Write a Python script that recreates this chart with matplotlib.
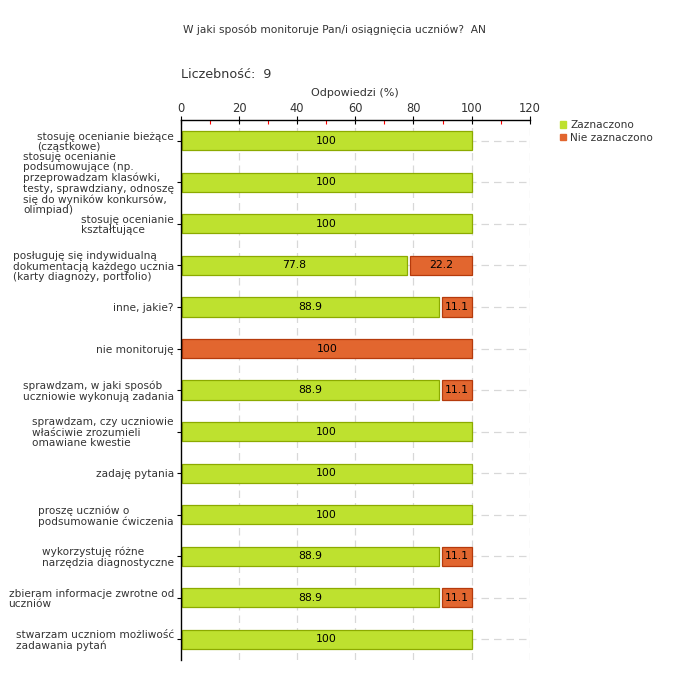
import numpy as np
import matplotlib.pyplot as plt
from matplotlib.ticker import MultipleLocator
from matplotlib.patches import Patch

# Data
labels = [
    "stosuję ocenianie bieżące\n(cząstkowe)",
    "stosuję ocenianie\npodsumowujące (np.\nprzeprowadzam klasówki,\ntesty, sprawdziany, odnoszę\nsię do wyników konkursów,\nolimpiad)",
    "stosuję ocenianie\nkształtujące",
    "posługuję się indywidualną\ndokumentacją każdego ucznia\n(karty diagnozy, portfolio)",
    "inne, jakie?",
    "nie monitoruję",
    "sprawdzam, w jaki sposób\nuczniowie wykonują zadania",
    "sprawdzam, czy uczniowie\nwłaściwie zrozumieli\nomawiane kwestie",
    "zadaję pytania",
    "proszę uczniów o\npodsumowanie ćwiczenia",
    "wykorzystuję różne\nnarzędzia diagnostyczne",
    "zbieram informacje zwrotne od\nuczniów",
    "stwarzam uczniom możliwość\nzadawania pytań",
]
zaznaczono = [100, 100, 100, 77.8, 88.9, 0, 88.9, 100, 100, 100, 88.9, 88.9, 100]
nie_zaznaczono = [0, 0, 0, 22.2, 11.1, 100, 11.1, 0, 0, 0, 11.1, 11.1, 0]

title = "W jaki sposób monitoruje Pan/i osiągnięcia uczniów?  AN"
count_text = "Liczebność:  9"
xlabel = "Odpowiedzi (%)"

green, green_edge = "#bee12f", "#8caa00"
orange, orange_edge = "#e2662f", "#b53a0c"
text_col = "#333333"
grid_col = "#d8d8d8"
gap = 1.0

plt.rcParams['font.family'] = ['DejaVu Sans']
fig = plt.figure(figsize=(6.8, 6.8), dpi=100)
ax = fig.add_axes([0.266, 0.0294, 0.513, 0.794])

y = np.arange(len(labels))
z = np.array(zaznaczono)
n = np.array(nie_zaznaczono)

# grid lines behind bars
for yi in y:
    ax.plot([0, 120], [yi, yi], color=grid_col, lw=0.9, ls=(0, (6, 4)), zorder=0)
for xv in range(20, 121, 20):
    ax.axvline(xv, color=grid_col, lw=0.9, ls=(0, (6, 4)), zorder=0)

h = 0.46
gz = z > 0
gn = n > 0
ax.barh(y[gz], z[gz] - 0.5, left=0.5, height=h, color=green,
        edgecolor=green_edge, lw=0.9, zorder=2)
nl = np.where(z > 0, z + gap, 0.5)
ax.barh(y[gn], (100 - nl)[gn], left=nl[gn], height=h, color=orange,
        edgecolor=orange_edge, lw=0.9, zorder=2)

for yi, zv, nv in zip(y, z, n):
    if zv > 0:
        ax.text(zv / 2, yi, f"{zv:g}", ha="center", va="center", fontsize=7.8,
                color="black", zorder=3)
    if nv > 0:
        ax.text(zv + nv / 2 + gap / 2, yi, f"{nv:g}", ha="center", va="center",
                fontsize=7.8, color="black", zorder=3)

ax.set_xlim(0, 120)
ax.set_ylim(len(labels) - 0.5, -0.5)
ax.xaxis.tick_top()
ax.xaxis.set_label_position("top")
ax.xaxis.set_major_locator(MultipleLocator(20))
ax.xaxis.set_minor_locator(MultipleLocator(10))
ax.tick_params(axis="x", which="major", direction="inout", length=6, width=0.8,
               labelsize=8.3, labelcolor=text_col, pad=1)
ax.tick_params(axis="x", which="minor", direction="in", length=3, width=0.8,
               color="red")
ax.set_xlabel(xlabel, fontsize=8, color=text_col, labelpad=4)

ax.set_yticks(y)
ax.set_yticklabels(labels, fontsize=7.6, color=text_col, ma="left",
                   linespacing=1.05)
ax.tick_params(axis="y", direction="out", length=3, width=0.8, pad=2)

for s in ["right", "bottom"]:
    ax.spines[s].set_visible(False)
for s in ["top", "left"]:
    ax.spines[s].set_linewidth(1.0)
    ax.spines[s].set_color("black")

fig.text(183 / 680, 1 - 30 / 680, title, fontsize=7.7, color=text_col,
         va="center")
fig.text(181 / 680, 1 - 75 / 680, count_text, fontsize=9.2, color=text_col,
         va="center")

# legend
handles = [Patch(facecolor=green, edgecolor=green, label="Zaznaczono"),
           Patch(facecolor=orange, edgecolor=orange, label="Nie zaznaczono")]
fig.legend(handles=handles, loc="upper left", bbox_to_anchor=(555 / 680, 1 - 115 / 680),
           frameon=False, fontsize=7.6, handlelength=0.55, handleheight=0.55,
           handletextpad=0.4, labelspacing=0.25, borderpad=0, labelcolor=text_col)

fig.savefig("out.png", dpi=100)
